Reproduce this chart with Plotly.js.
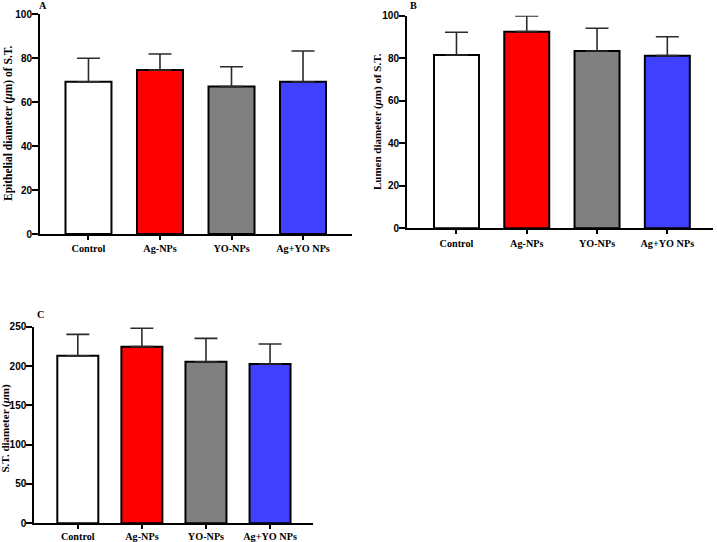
<!DOCTYPE html>
<html>
<head>
<meta charset="utf-8">
<script src="https://cdn.plot.ly/plotly-3.0.1.min.js"></script>
<style>html,body{margin:0;padding:0;background:#fff;}#chart{width:717px;height:542px;}</style>
</head>
<body>
<div id="chart"></div>
<script>
// ---- data ----
var categories = ["Control", "Ag-NPs", "YO-NPs", "Ag+YO NPs"];
var epithelialMean = [69.2, 74.5, 67.0, 69.2];
var epithelialSD   = [10.7, 7.3, 9.0, 14.0];
var lumenMean = [81.5, 92.5, 83.4, 81.2];
var lumenSD   = [10.7, 7.4, 10.7, 8.9];
var stMean = [213.1, 224.6, 205.5, 202.6];
var stSD   = [27.2, 23.4, 29.7, 25.4];
var zeroMinus = [0, 0, 0, 0];
var yTitles = ["Epithelial diameter (<i>μ</i>m) of S.T.", "Lumen diameter (<i>μ</i>m) of S.T.", "S.T. diameter (<i>μ</i>m)"];
var panelLetters = ["A", "B", "C"];

// ---- styles ----
var barColors = ["#ffffff", "#ff0000", "#808080", "#4040ff"];
var W = 717, H = 542;
function px(x) { return x / W; }
function py(y) { return 1 - y / H; }

function barTrace(means, sds, xa, ya, w) {
  return {
    type: "bar", x: categories, y: means, xaxis: xa, yaxis: ya, width: w,
    marker: { color: barColors, line: { color: "#000", width: 2 } },
    error_y: { type: "data", array: sds, arrayminus: zeroMinus, symmetric: false,
               color: "#2b2b2b", thickness: 1.6, width: 11.5 },
    showlegend: false, hoverinfo: "x+y"
  };
}

var tickFont = { family: "Liberation Sans, Arial, sans-serif", size: 10, color: "#000", weight: "bold" };
var catFont = { family: "Liberation Serif, Times New Roman, serif", size: 10.2, color: "#000", weight: "bold" };
function titleFont(s) { return { family: "Liberation Serif, Times New Roman, serif", size: s, color: "#000", weight: "bold" }; }

function xAxis(d, r, anchor, so) {
  return { domain: d, range: r, anchor: anchor, type: "category", showline: true, linewidth: 2, linecolor: "#000",
           ticks: "outside", ticklen: 4, tickwidth: 2, tickcolor: "#000", showgrid: false, zeroline: false,
           tickfont: catFont, ticklabelstandoff: so };
}
function yAxis(d, r, dt, anchor) {
  return { domain: d, range: r, dtick: dt, anchor: anchor, showline: true, linewidth: 2, linecolor: "#000",
           ticks: "outside", ticklen: 6, tickwidth: 2, tickcolor: "#000", showgrid: false, zeroline: false,
           tickfont: tickFont, ticklabelstandoff: -2 };
}

var data = [
  barTrace(epithelialMean, epithelialSD, "x", "y", 0.643),
  barTrace(lumenMean, lumenSD, "x2", "y2", 0.64),
  barTrace(stMean, stSD, "x3", "y3", 0.64)
];

function ann(text, x, y, font, angle) {
  return { text: text, x: px(x), y: py(y), xref: "paper", yref: "paper", showarrow: false, font: font,
           xanchor: "center", yanchor: "middle", textangle: angle || 0 };
}

var layout = {
  width: W, height: H, margin: { l: 0, r: 0, t: 0, b: 0 },
  paper_bgcolor: "#fff", plot_bgcolor: "rgba(0,0,0,0)",
  xaxis:  xAxis([px(40), px(352)], [-0.678, 3.685], "y", 0),
  yaxis:  yAxis([py(234), py(14)], [0, 100], 20, "x"),
  xaxis2: xAxis([px(407), px(713)], [-0.704, 3.65], "y2", 0),
  yaxis2: yAxis([py(228.3), py(15.7)], [0, 100], 20, "x2"),
  xaxis3: xAxis([px(34.3), px(313.3)], [-0.679, 3.675], "y3", -2),
  yaxis3: yAxis([py(523.3), py(326.7)], [0, 250], 50, "x3"),
  annotations: [
    ann(yTitles[0], 8, 123, titleFont(11.5), -90),
    ann(yTitles[1], 377, 122, titleFont(11), -90),
    ann(yTitles[2], 4.5, 428, titleFont(11), -90),
    ann(panelLetters[0], 43, 6, catFont),
    ann(panelLetters[1], 413, 5.5, catFont),
    ann(panelLetters[2], 40, 314.5, catFont)
  ]
};

Plotly.newPlot("chart", data, layout, { displayModeBar: false, staticPlot: true });
</script>
</body>
</html>
